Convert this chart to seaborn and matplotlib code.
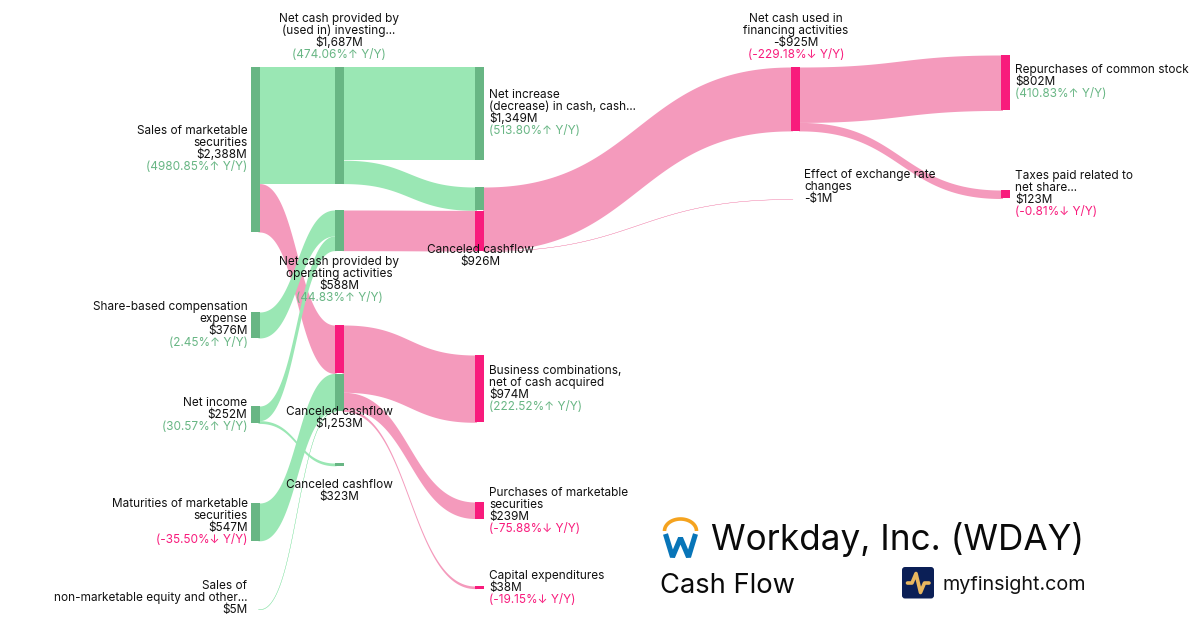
#!/usr/bin/env python
# -*- coding: utf-8 -*-
"""Workday cash flow sankey, seaborn bars for the nodes and filled ribbons for the flows."""
import numpy as np
import matplotlib
matplotlib.use('Agg')
import matplotlib.pyplot as plt
from matplotlib.patches import FancyBboxPatch
import seaborn as sns

# ================= DATA =================
NODES = ['sales', 'share', 'income', 'maturities', 'nonmkt',
         'investing', 'operating', 'canceled_1253', 'canceled_323',
         'increase', 'canceled_926', 'business', 'purchases', 'capex',
         'financing', 'exchange', 'repurchases', 'taxes']

LINK_SOURCE = ['sales', 'sales', 'share', 'income', 'income', 'maturities', 'nonmkt',
               'investing', 'investing', 'operating',
               'canceled_1253', 'canceled_1253', 'canceled_1253',
               'canceled_926', 'canceled_926', 'financing', 'financing']
LINK_TARGET = ['investing', 'canceled_1253', 'operating', 'operating', 'canceled_323',
               'canceled_1253', 'canceled_1253',
               'increase', 'canceled_926', 'canceled_926',
               'business', 'purchases', 'capex',
               'financing', 'exchange', 'repurchases', 'taxes']
LINK_VALUE = [1687, 701, 376, 212, 40, 547, 5, 1349, 338, 588, 974, 239, 38, 925, 1, 802, 123]
LINK_KIND = ['up', 'down', 'up', 'up', 'up', 'up', 'up', 'up', 'up', 'down',
             'down', 'down', 'down', 'down', 'down', 'down', 'down']

# text of each label: name lines, amount, change
LABELS = {
    'sales': (['Sales of marketable', 'securities', '$2,388M'], '(4980.85%↑ Y/Y)', 'up'),
    'share': (['Share-based compensation', 'expense', '$376M'], '(2.45%↑ Y/Y)', 'up'),
    'income': (['Net income', '$252M'], '(30.57%↑ Y/Y)', 'up'),
    'maturities': (['Maturities of marketable', 'securities', '$547M'], '(-35.50%↓ Y/Y)', 'down'),
    'nonmkt': (['Sales of', 'non-marketable equity and other...', '$5M'], None, None),
    'investing': (['Net cash provided by', '(used in) investing...', '$1,687M'], '(474.06%↑ Y/Y)', 'up'),
    'operating': (['Net cash provided by', 'operating activities', '$588M'], '(44.83%↑ Y/Y)', 'up'),
    'canceled_1253': (['Canceled cashflow', '$1,253M'], None, None),
    'canceled_323': (['Canceled cashflow', '$323M'], None, None),
    'increase': (['Net increase', '(decrease) in cash, cash...', '$1,349M'], '(513.80%↑ Y/Y)', 'up'),
    'canceled_926': (['Canceled cashflow', '$926M'], None, None),
    'business': (['Business combinations,', 'net of cash acquired', '$974M'], '(222.52%↑ Y/Y)', 'up'),
    'purchases': (['Purchases of marketable', 'securities', '$239M'], '(-75.88%↓ Y/Y)', 'down'),
    'capex': (['Capital expenditures', '$38M'], '(-19.15%↓ Y/Y)', 'down'),
    'financing': (['Net cash used in', 'financing activities', '-$925M'], '(-229.18%↓ Y/Y)', 'down'),
    'exchange': (['Effect of exchange rate', 'changes', '-$1M'], None, None),
    'repurchases': (['Repurchases of common stock', '$802M'], '(410.83%↑ Y/Y)', 'up'),
    'taxes': (['Taxes paid related to', 'net share...', '$123M'], '(-0.81%↓ Y/Y)', 'down'),
}

# ================= LAYOUT (pixels) =================
PX_PER_M = 0.0691
NODE_W = 9
LINE_H = 12
NODE_X = dict(zip(NODES, [250.5] * 5 + [334.5] * 4 + [475] * 5 + [791] * 2 + [1001] * 2))
NODE_TOP = dict(zip(NODES, [67, 312, 406, 503, 609, 67, 210, 325, 463,
                            67, 187, 355, 502, 586, 67, 199, 55, 190]))
# label anchor x, horizontal alignment, baseline of first line
LABEL_POS = {
    'sales': (247.5, 'right', 134), 'share': (247.5, 'right', 310), 'income': (247.5, 'right', 406),
    'maturities': (247.5, 'right', 507), 'nonmkt': (247.5, 'right', 589),
    'investing': (339, 'center', 22), 'operating': (339, 'center', 265),
    'canceled_1253': (339, 'center', 415), 'canceled_323': (339, 'center', 488),
    'increase': (489, 'left', 98), 'canceled_926': (480, 'center', 253),
    'business': (489, 'left', 374), 'purchases': (489, 'left', 496), 'capex': (489, 'left', 579),
    'financing': (796, 'center', 22), 'exchange': (804, 'left', 178),
    'repurchases': (1015, 'left', 73), 'taxes': (1015, 'left', 179),
}

GREEN_LINK, GREEN_NODE = '#9AE7B4', '#68B684'
PINK_LINK, PINK_NODE = '#F49ABC', '#F81B7C'
TEXT = '#111111'
LINK_COL = {'up': GREEN_LINK, 'down': PINK_LINK}
NODE_COL = {'up': GREEN_NODE, 'down': PINK_NODE}
FONT_SIZE = 8.5

sns.set_theme(style='white')
plt.rcParams['font.family'] = ['Inter', 'DejaVu Sans']

fig, ax = plt.subplots(figsize=(12, 6.3), dpi=100)
fig.subplots_adjust(left=0, right=1, top=1, bottom=0)

# ribbons, stacked on both sides in the order of the link lists
out_used = {n: 0.0 for n in NODES}
in_used = {n: 0.0 for n in NODES}
segments = []
t = np.linspace(0, 1, 120)
for src, dst, val, kind in zip(LINK_SOURCE, LINK_TARGET, LINK_VALUE, LINK_KIND):
    h = val * PX_PER_M
    x0, x1 = NODE_X[src] + NODE_W, NODE_X[dst]
    y0, y1 = NODE_TOP[src] + out_used[src], NODE_TOP[dst] + in_used[dst]
    xm = (x0 + x1) / 2
    xs = (1 - t) ** 3 * x0 + 3 * (1 - t) ** 2 * t * xm + 3 * (1 - t) * t ** 2 * xm + t ** 3 * x1
    ys = (1 - t) ** 3 * y0 + 3 * (1 - t) ** 2 * t * y0 + 3 * (1 - t) * t ** 2 * y1 + t ** 3 * y1
    # run the ribbon slightly under the node blocks so no white seam shows
    xs = np.r_[x0 - 1.5, xs, x1 + 1.5]
    ys = np.r_[y0, ys, y1]
    # the very thin flows only get a hairline, pale like in the original
    edge = 0.22 if h < 1 else 0
    ax.fill_between(xs, ys, ys + h, color=LINK_COL[kind], linewidth=edge, zorder=1)
    segments.append((dst, in_used[dst], h, kind))
    if src not in LINK_TARGET:
        segments.append((src, out_used[src], h, 'up'))
    out_used[src] += h
    in_used[dst] += h

# node blocks, one piece for every flow that makes them up
for node, offset, h, kind in segments:
    seam = 0.5 if offset > 0 else 0
    sns.barplot(x=[NODE_X[node] + NODE_W / 2], y=[h - seam], bottom=NODE_TOP[node] + offset + seam,
                native_scale=True, width=NODE_W, color=NODE_COL[kind], saturation=1,
                errorbar=None, linewidth=0, zorder=3, ax=ax)

# labels
for node, (lines, change, direction) in LABELS.items():
    lx, ha, base = LABEL_POS[node]
    for i, line in enumerate(lines):
        ax.text(lx, base + i * LINE_H, line, ha=ha, va='baseline', fontsize=FONT_SIZE, color=TEXT, zorder=5)
    if change:
        ax.text(lx, base + len(lines) * LINE_H, change, ha=ha, va='baseline', fontsize=FONT_SIZE,
                color=NODE_COL[direction], zorder=5)

# title block
ax.text(711, 550, 'Workday, Inc. (WDAY)', fontsize=25.3, color='#0A0A0A', va='baseline', zorder=5)
ax.text(660, 593, 'Cash Flow', fontsize=19.7, color='#0A0A0A', va='baseline', zorder=5)
ax.text(942, 590, 'myfinsight.com', fontsize=14.2, color='#111111', va='baseline', zorder=5)

# Workday logo
theta = np.linspace(np.pi, 0, 60)
ax.plot(680.5 + 16 * np.cos(theta), 531 - 12 * np.sin(theta), color='#F5A31F', lw=2.6,
        solid_capstyle='butt', zorder=4)
ax.plot([665.5, 672.5, 680.5, 688.5, 695.5], [534, 557, 538, 557, 534], color='#0875B8', lw=3.7,
        solid_joinstyle='bevel', solid_capstyle='butt', zorder=4)

# myfinsight icon
ax.add_patch(FancyBboxPatch((904, 569), 28, 27.5, boxstyle='round,pad=2,rounding_size=3',
                            fc='#0B1F56', ec='none', zorder=4))
ax.plot([907.5, 912, 916, 920.5, 924.5, 929], [583, 583, 573.5, 592.5, 583, 583], color='#E9B75F', lw=2.6,
        solid_joinstyle='round', solid_capstyle='round', zorder=5)

ax.set_xlim(0, 1200)
ax.set_ylim(630, 0)
ax.axis('off')
fig.savefig('out.png', dpi=100, facecolor='white')
